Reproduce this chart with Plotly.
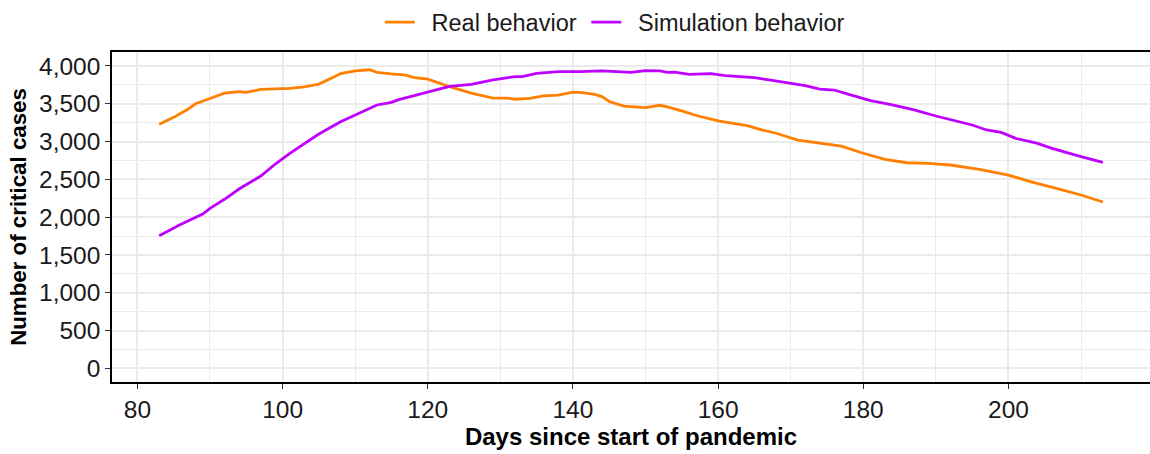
import plotly.graph_objects as go

# Daily ICU occupancy: observed vs. simulated
real_days = [83, 85, 87, 88, 90, 92, 94, 95, 97, 99, 101, 103, 105, 107, 108, 110,
             112, 113, 114, 115, 117, 118, 120, 121, 123, 126, 129, 131, 132, 134,
             136, 138, 140, 141, 143, 144, 145, 147, 150, 152, 153, 155, 157, 160,
             162, 164, 166, 168, 171, 172, 177, 180, 183, 186, 189, 192, 196, 200,
             203, 207, 210, 213]
real_cases = [3230, 3320, 3430, 3500, 3570, 3640, 3660, 3650, 3690, 3695, 3705, 3725,
              3760, 3850, 3900, 3935, 3950, 3915, 3910, 3895, 3880, 3850, 3825, 3790,
              3726, 3640, 3575, 3575, 3560, 3570, 3605, 3615, 3655, 3650, 3625, 3595,
              3530, 3470, 3450, 3480, 3460, 3405, 3345, 3275, 3245, 3210, 3155, 3110,
              3020, 3007, 2940, 2845, 2765, 2720, 2712, 2690, 2633, 2557, 2470, 2370,
              2293, 2200]

sim_days = [83, 86, 89, 90, 92, 94, 97, 99, 101, 103, 105, 108, 111, 113, 115, 116,
            118, 120, 121, 123, 126, 129, 132, 133, 135, 138, 141, 144, 146, 148, 150,
            152, 153, 154, 156, 159, 161, 164, 165, 167, 171, 172, 174, 176, 178, 181,
            184, 187, 190, 193, 195, 197, 199, 201, 204, 206, 208, 210, 213]
sim_cases = [1755, 1905, 2040, 2117, 2236, 2372, 2544, 2703, 2845, 2977, 3100, 3263,
             3395, 3484, 3519, 3555, 3605, 3655, 3678, 3730, 3757, 3815, 3859, 3859,
             3903, 3925, 3925, 3934, 3925, 3916, 3938, 3934, 3916, 3920, 3890, 3898,
             3872, 3850, 3845, 3815, 3748, 3739, 3695, 3682, 3625, 3541, 3484, 3418,
             3338, 3263, 3219, 3153, 3122, 3043, 2977, 2911, 2853, 2800, 2726]

x_ticks = [80, 100, 120, 140, 160, 180, 200]
y_ticks = [0, 500, 1000, 1500, 2000, 2500, 3000, 3500, 4000]
y_tick_labels = [f"{v:,}" for v in y_ticks]

ORANGE = "#FF8000"
PURPLE = "#BF00FF"
GRID = "#EBEBEB"
FONT = "Liberation Sans, Arial, sans-serif"
KEY_GAP = "\u2002"   # extra room between legend key and its label
ITEM_GAP = "\u2009"  # a little extra room before the next legend key

fig = go.Figure()
fig.add_trace(go.Scatter(x=real_days, y=real_cases, mode="lines",
                         name=KEY_GAP + "Real behavior" + ITEM_GAP,
                         line=dict(color=ORANGE, width=2.8)))
fig.add_trace(go.Scatter(x=sim_days, y=sim_cases, mode="lines",
                         name=KEY_GAP + "Simulation behavior",
                         line=dict(color=PURPLE, width=2.8)))

fig.update_layout(
    width=1150, height=454,
    margin=dict(l=112, r=0, t=52, b=72),
    paper_bgcolor="white", plot_bgcolor="white",
    font=dict(family=FONT, color="black"),
    legend=dict(orientation="h", x=0.258, xanchor="left", y=1.09, yanchor="middle",
                font=dict(size=23.5, family=FONT, color="#1a1a1a"),
                bgcolor="rgba(0,0,0,0)", traceorder="normal"),
    showlegend=True,
)

fig.update_xaxes(
    range=[76.5, 219.5],
    tickvals=x_ticks, ticktext=[str(v) for v in x_ticks],
    tickfont=dict(size=24.5, family=FONT, color="#1a1a1a"),
    ticks="outside", ticklen=5, tickwidth=1.3, tickcolor="#333333",
    showgrid=True, gridcolor=GRID, gridwidth=1.5,
    minor=dict(dtick=10, tick0=70, showgrid=True, gridcolor=GRID, gridwidth=0.8),
    showline=True, linecolor="black", linewidth=1.5, mirror=True,
    zeroline=False,
    title=dict(text="<b>Days since start of pandemic</b>", font=dict(size=24, family=FONT),
               standoff=2),
)
fig.update_yaxes(
    range=[-181, 4185],
    tickvals=y_ticks, ticktext=y_tick_labels,
    tickfont=dict(size=24.5, family=FONT, color="#1a1a1a"),
    ticks="outside", ticklen=5, tickwidth=1.3, tickcolor="#333333",
    showgrid=True, gridcolor=GRID, gridwidth=1.5,
    minor=dict(dtick=250, tick0=250, showgrid=True, gridcolor=GRID, gridwidth=0.8),
    showline=True, linecolor="black", linewidth=1.5, mirror=False,
    zeroline=False,
    title=dict(text="<b>Number of critical cases</b>", font=dict(size=22.3, family=FONT),
               standoff=6),
)

fig.write_html("out.html")
